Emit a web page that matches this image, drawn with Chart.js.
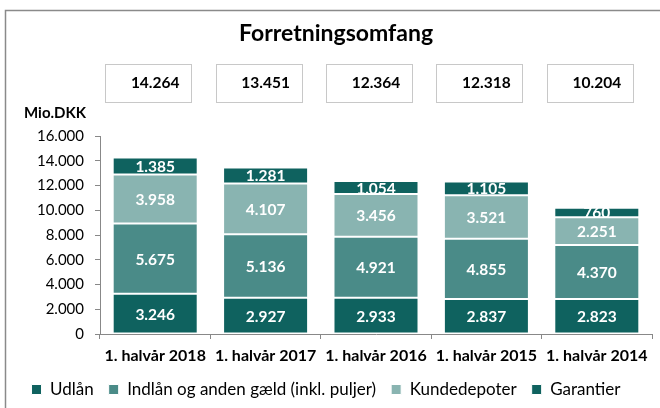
<!DOCTYPE html>
<html>
<head>
<meta charset="utf-8">
<script src="https://cdn.jsdelivr.net/npm/chart.js@4.4.1/dist/chart.umd.min.js"></script>
<style>
  html, body { margin: 0; padding: 0; background: #fff; }
  #wrap { width: 660px; height: 408px; position: relative; }
</style>
</head>
<body>
<div id="wrap"><canvas id="chart" width="660" height="408"></canvas></div>
<script>
const categories = ['1. halvår 2018', '1. halvår 2017', '1. halvår 2016', '1. halvår 2015', '1. halvår 2014'];
const udlaan = [3246, 2927, 2933, 2837, 2823];
const indlaan = [5675, 5136, 4921, 4855, 4370];
const kundedepoter = [3958, 4107, 3456, 3521, 2251];
const garantier = [1385, 1281, 1054, 1105, 760];
const totals = [14264, 13451, 12364, 12318, 10204];
const yTicks = [0, 2000, 4000, 6000, 8000, 10000, 12000, 14000, 16000];

const font = 'Lato, "Open Sans", sans-serif';
const fmt = v => v.toLocaleString('da-DK');

// frame, title, unit label and total boxes
const decor = {
  id: 'decor',
  afterDraw(chart) {
    const ctx = chart.ctx;
    const x = chart.scales.x;
    ctx.save();
    ctx.strokeStyle = '#8a8a8a';
    ctx.lineWidth = 1.5;
    ctx.beginPath();
    ctx.moveTo(5.5, 408);
    ctx.lineTo(5.5, 10.5);
    ctx.lineTo(660, 10.5);
    ctx.stroke();

    ctx.fillStyle = '#000';
    ctx.font = 'bold 23px ' + font;
    ctx.textAlign = 'center';
    ctx.textBaseline = 'middle';
    ctx.fillText('Forretningsomfang', 336, 34);

    ctx.font = 'bold 15px ' + font;
    ctx.textAlign = 'left';
    ctx.fillText('Mio.DKK', 24, 113);

    ctx.strokeStyle = '#c8c8c8';
    ctx.lineWidth = 1;
    totals.forEach((t, i) => {
      const cx = x.getPixelForValue(i);
      ctx.strokeRect(Math.round(cx - 50) + 0.5, 64.5, 86, 38);
      ctx.fillStyle = '#000';
      ctx.textAlign = 'center';
      ctx.font = 'bold 15.5px ' + font;
      ctx.fillText(fmt(t), cx, 83);
    });
    ctx.restore();
  }
};

// white value labels inside segments
const segLabels = {
  id: 'segLabels',
  afterDatasetsDraw(chart) {
    const ctx = chart.ctx;
    ctx.save();
    ctx.fillStyle = '#fff';
    ctx.font = 'bold 15.5px ' + font;
    ctx.textAlign = 'center';
    ctx.textBaseline = 'middle';
    chart.data.datasets.forEach((ds, di) => {
      chart.getDatasetMeta(di).data.forEach((bar, i) => {
        const mid = (bar.y + bar.base) / 2;
        ctx.fillText(fmt(ds.data[i]), bar.x, mid + 1);
      });
    });
    ctx.restore();
  }
};

new Chart(document.getElementById('chart').getContext('2d'), {
  type: 'bar',
  data: {
    labels: categories,
    datasets: [
      { label: 'Udlån', data: udlaan, backgroundColor: '#0f625f' },
      { label: 'Indlån og anden gæld (inkl. puljer)', data: indlaan, backgroundColor: '#4a8b88' },
      { label: 'Kundedepoter', data: kundedepoter, backgroundColor: '#89b4b1' },
      { label: 'Garantier', data: garantier, backgroundColor: '#0f625f' }
    ].map(d => Object.assign(d, {
      borderColor: '#fff',
      borderWidth: 1,
      borderSkipped: false,
      barPercentage: 0.77,
      categoryPercentage: 1
    }))
  },
  options: {
    responsive: false,
    animation: false,
    layout: { padding: { top: 136, left: 0, right: 8, bottom: 0 } },
    plugins: {
      legend: {
        position: 'bottom',
        labels: {
          color: '#000',
          font: { family: font, size: 17 },
          boxWidth: 10,
          boxHeight: 10,
          padding: 15
        }
      },
      tooltip: { enabled: false }
    },
    scales: {
      y: {
        stacked: true,
        min: 0,
        max: 16000,
        afterBuildTicks: axis => { axis.ticks = yTicks.map(v => ({ value: v })); },
        afterFit: axis => { axis.width = 100; },
        ticks: {
          color: '#000',
          font: { family: font, size: 15 },
          padding: 11,
          callback: v => fmt(v)
        },
        grid: { drawOnChartArea: false, tickLength: 5, color: '#888' },
        border: { color: '#888' }
      },
      x: {
        stacked: true,
        afterFit: axis => { axis.height = 32; },
        ticks: {
          color: '#000',
          font: { family: font, size: 16, weight: 'bold' },
          padding: 7,
          maxRotation: 0
        },
        grid: { offset: true, drawOnChartArea: false, tickLength: 5, color: '#888' },
        border: { color: '#888' }
      }
    }
  },
  plugins: [decor, segLabels]
});
</script>
</body>
</html>
